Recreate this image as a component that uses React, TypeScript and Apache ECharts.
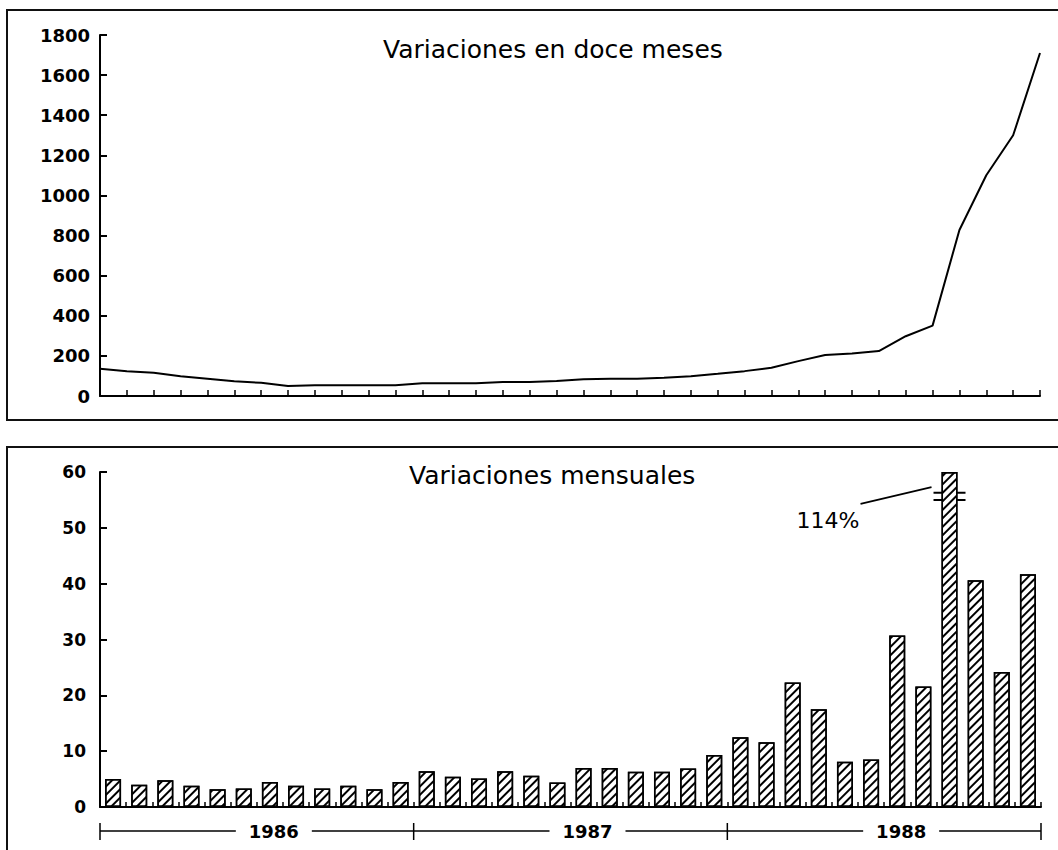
import React, { useEffect, useRef } from "react";
import * as echarts from "echarts";

// ---- data ----
const years = ["1986", "1987", "1988"];
const monthNames = ["Ene", "Feb", "Mar", "Abr", "May", "Jun", "Jul", "Ago", "Sep", "Oct", "Nov", "Dic"];
const topTitle = "Variaciones en doce meses";
const bottomTitle = "Variaciones mensuales";
const topTicks = [0, 200, 400, 600, 800, 1000, 1200, 1400, 1600, 1800];
const bottomTicks = [0, 10, 20, 30, 40, 50, 60];
// twelve-month variation (%)
const doceMeses = [
  136, 124, 116, 99, 86, 73, 66, 50, 53, 53, 53, 53,
  63, 63, 63, 70, 70, 75, 83, 86, 86, 91, 99, 111,
  124, 141, 174, 204, 212, 224, 298, 351, 828, 1101, 1300, 1710,
];
// monthly variation (%)
const mensuales = [
  5.0, 4.0, 4.8, 3.8, 3.2, 3.3, 4.5, 3.8, 3.3, 3.8, 3.2, 4.5,
  6.4, 5.4, 5.1, 6.4, 5.6, 4.4, 7.0, 7.0, 6.3, 6.3, 6.9, 9.3,
  12.5, 11.6, 22.3, 17.5, 8.1, 8.5, 30.7, 21.6, 114, 40.6, 24.2, 41.7,
];

const categories = years.flatMap((y) => monthNames.map((m) => `${m} ${y}`));
const FONT = '"DejaVu Sans", sans-serif';

export default function App() {
  const ref = useRef<HTMLDivElement>(null);
  useEffect(() => {
    if (!ref.current) return;
    const chart = echarts.init(ref.current, undefined, { renderer: "svg" });
    const topMin = topTicks[0];
    const topMax = topTicks[topTicks.length - 1];
    const botMin = bottomTicks[0];
    const botMax = bottomTicks[bottomTicks.length - 1];
    const axisLine = { show: true, lineStyle: { color: "#000", width: 2 } };
    const plain = (v: number) => String(v);
    const option: any = {
      animation: false,
      backgroundColor: "#fff",
      grid: [
        { left: 100, top: 35, width: 940, height: 361 },
        { left: 100, top: 472, width: 941, height: 335 },
      ],
      xAxis: [
        {
          type: "category", gridIndex: 0, data: categories, boundaryGap: false,
          axisLine,
          axisTick: { show: true, interval: 0, inside: true, length: 6, lineStyle: { color: "#000", width: 1.5 } },
          axisLabel: { show: false, interval: 0 }, splitLine: { show: false },
        },
        {
          type: "category", gridIndex: 1, data: categories, boundaryGap: true,
          axisLine,
          axisTick: { show: true, interval: 0, inside: true, length: 5, lineStyle: { color: "#000", width: 1.5 } },
          axisLabel: { show: false, interval: 0 }, splitLine: { show: false },
        },
      ],
      yAxis: [
        {
          type: "value", gridIndex: 0, min: topMin, max: topMax, interval: topTicks[1] - topTicks[0],
          axisLine,
          axisTick: { show: true, inside: true, length: 7, lineStyle: { color: "#000", width: 2 } },
          axisLabel: { fontFamily: FONT, fontWeight: "bold", fontSize: 18, color: "#000", margin: 10, formatter: plain },
          splitLine: { show: false },
        },
        {
          type: "value", gridIndex: 1, min: botMin, max: botMax, interval: bottomTicks[1] - bottomTicks[0],
          axisLine,
          axisTick: { show: true, inside: true, length: 7, lineStyle: { color: "#000", width: 2 } },
          axisLabel: { fontFamily: FONT, fontWeight: "bold", fontSize: 17, color: "#000", margin: 14, formatter: plain },
          splitLine: { show: false },
        },
      ],
      series: [
        {
          type: "line", xAxisIndex: 0, yAxisIndex: 0, data: doceMeses, symbol: "none",
          lineStyle: { color: "#000", width: 2 },
        },
        {
          type: "bar", xAxisIndex: 1, yAxisIndex: 1, barWidth: 16,
          data: mensuales.map((v) => Math.min(v, botMax)),
          itemStyle: {
            color: "#fff", borderColor: "#000", borderWidth: 1.5,
            decal: {
              symbol: "rect", symbolSize: 1, color: "#000", backgroundColor: "#fff",
              dashArrayX: [1, 0], dashArrayY: [1.2, 3.2], rotation: -Math.PI / 4,
            },
          },
        },
      ],
    };
    chart.setOption(option);

    const px = (i: number, v: number) =>
      chart.convertToPixel({ xAxisIndex: 1, yAxisIndex: 1 }, [i, v]) as number[];
    const band = px(1, 0)[0] - px(0, 0)[0];
    const rowY = 831;
    const g: any[] = [
      { type: "rect", shape: { x: 7, y: 10, width: 1100, height: 410 }, style: { fill: "none", stroke: "#111", lineWidth: 2 } },
      { type: "rect", shape: { x: 7, y: 447, width: 1100, height: 500 }, style: { fill: "none", stroke: "#111", lineWidth: 2 } },
      { type: "text", x: 383, y: 49, style: { text: topTitle, font: `25px ${FONT}`, fill: "#000", align: "left", verticalAlign: "middle" } },
      { type: "text", x: 409, y: 475, style: { text: bottomTitle, font: `25px ${FONT}`, fill: "#000", align: "left", verticalAlign: "middle" } },
    ];
    years.forEach((yr, k) => {
      const x0 = px(12 * k, 0)[0] - band / 2;
      const x1 = px(12 * k + 11, 0)[0] + band / 2;
      const lc = (x0 + x1) / 2 + 17;
      g.push({ type: "line", shape: { x1: x0, y1: rowY, x2: lc - 38, y2: rowY }, style: { stroke: "#000", lineWidth: 1.5 } });
      g.push({ type: "line", shape: { x1: lc + 38, y1: rowY, x2: x1, y2: rowY }, style: { stroke: "#000", lineWidth: 1.5 } });
      g.push({ type: "line", shape: { x1: x0, y1: rowY - 8, x2: x0, y2: rowY + 9 }, style: { stroke: "#000", lineWidth: 1.5 } });
      if (k === years.length - 1) {
        g.push({ type: "line", shape: { x1: x1, y1: rowY - 8, x2: x1, y2: rowY + 9 }, style: { stroke: "#000", lineWidth: 1.5 } });
      }
      g.push({ type: "text", x: lc, y: rowY, style: { text: yr, font: `bold 18px ${FONT}`, fill: "#000", align: "center", verticalAlign: "middle" } });
    });
    const idx = mensuales.findIndex((v) => v > botMax);
    if (idx >= 0) {
      const cx = px(idx, 0)[0];
      const yA = px(idx, 56.3)[1];
      const yB = px(idx, 55.0)[1];
      g.push({ type: "rect", shape: { x: cx - 12, y: yA, width: 24, height: yB - yA }, style: { fill: "#fff" } });
      g.push({ type: "line", shape: { x1: cx - 16, y1: yA, x2: cx + 16, y2: yA }, style: { stroke: "#000", lineWidth: 2 } });
      g.push({ type: "line", shape: { x1: cx - 16, y1: yB, x2: cx + 16, y2: yB }, style: { stroke: "#000", lineWidth: 2 } });
      const s = px(idx, 54.3);
      const e = px(idx, 57.3);
      g.push({ type: "line", shape: { x1: cx - 89, y1: s[1], x2: cx - 18, y2: e[1] }, style: { stroke: "#000", lineWidth: 1.8 } });
      const t = px(idx, 51.4);
      g.push({ type: "text", x: cx - 90, y: t[1], style: { text: `${mensuales[idx]}%`, font: `22px ${FONT}`, fill: "#000", align: "right", verticalAlign: "middle" } });
    }
    chart.setOption({ graphic: g });
    return () => chart.dispose();
  }, []);
  return (
    <div
      ref={ref}
      style={{ position: "fixed", left: 0, top: 0, width: 1058, height: 850, background: "#fff" }}
    />
  );
}
